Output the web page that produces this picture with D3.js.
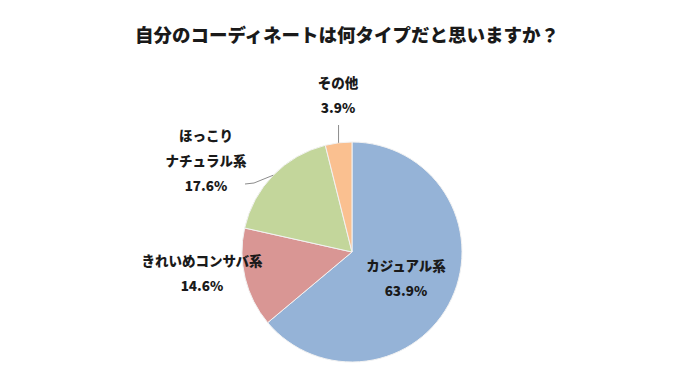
<!DOCTYPE html>
<html>
<head>
<meta charset="utf-8">
<script src="https://cdn.jsdelivr.net/npm/d3@7"></script>
<style>
  body { margin: 0; background: #fff; }
  text { font-family: "Noto Sans CJK JP", "Noto Sans", sans-serif; font-weight: bold; fill: #1a1a1a; }
</style>
</head>
<body>
<div id="container"></div>
<script>
/* CONSTANTS AND GLOBALS */
const width = 700;
const height = 386;

/* DATA */
const categories = ["カジュアル系", "きれいめコンサバ系", "ほっこりナチュラル系", "その他"];
const labelLines = [["カジュアル系"], ["きれいめコンサバ系"], ["ほっこり", "ナチュラル系"], ["その他"]];
const values = [63.9, 14.6, 17.6, 3.9];
const colors = ["#95b3d7", "#d99694", "#c3d69b", "#fac090"];

/* LAYOUT (label anchor points, leader lines) */
const cx = 352, cy = 252, radius = 110;
const labelPos = [
  { x: 406, y: 271 },
  { x: 202, y: 266 },
  { x: 206, y: 141 },
  { x: 338, y: 88 }
];
const lineGap = 25;

const svg = d3.select("#container")
  .append("svg")
  .attr("width", width)
  .attr("height", height)
  .style("background-color", "white");

svg.append("text")
  .attr("x", 347)
  .attr("y", 42)
  .attr("text-anchor", "middle")
  .style("font-size", "18.5px")
  .style("font-weight", 900)
  .text("自分のコーディネートは何タイプだと思いますか？");

const pie = d3.pie().sort(null).value(d => d);
const arcs = pie(values);
const arc = d3.arc().innerRadius(0).outerRadius(radius);

const g = svg.append("g").attr("transform", `translate(${cx},${cy})`);

g.selectAll(".slice")
  .data(arcs)
  .join("path")
  .attr("class", "slice")
  .attr("d", arc)
  .attr("fill", (d, i) => colors[i])
  .attr("stroke", "#f2f2f2")
  .attr("stroke-width", 1);

// leader lines for the small outer slices
const outerPt = d => {
  const a = (d.startAngle + d.endAngle) / 2;
  return [cx + radius * Math.sin(a), cy - radius * Math.cos(a)];
};
const p2 = outerPt(arcs[2]);
const p3 = outerPt(arcs[3]);
const line = d3.line();
svg.append("path")
  .attr("d", line([[245, 184], [254, 183], p2]))
  .attr("fill", "none").attr("stroke", "#8c8c8c").attr("stroke-width", 1);
svg.append("path")
  .attr("d", line([[p3[0], 125], p3]))
  .attr("fill", "none").attr("stroke", "#8c8c8c").attr("stroke-width", 1);

// labels
labelLines.forEach((lines, i) => {
  const t = svg.append("text")
    .attr("text-anchor", "middle")
    .style("font-size", "13.5px")
    .style("font-weight", 900);
  lines.concat([values[i].toFixed(1) + "%"]).forEach((s, j) => {
    t.append("tspan")
      .attr("x", labelPos[i].x)
      .attr("y", labelPos[i].y + j * lineGap)
      .text(s);
  });
});
</script>
</body>
</html>
